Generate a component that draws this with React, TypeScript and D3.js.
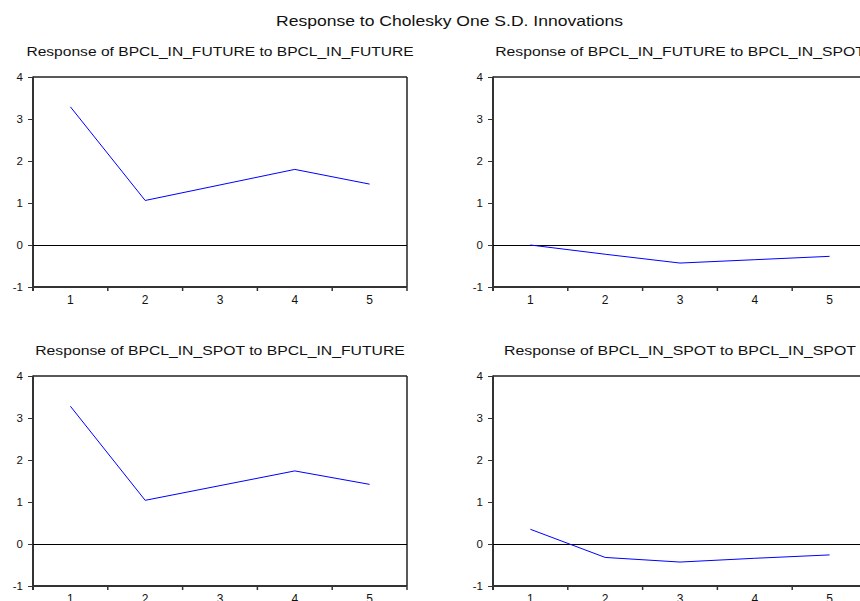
import * as d3 from "d3";

const periods = [1, 2, 3, 4, 5];
const yTicks = [-1, 0, 1, 2, 3, 4];

const futureToFuture = [3.29, 1.06, 1.43, 1.8, 1.45];
const futureToSpot = [0.0, -0.22, -0.43, -0.35, -0.27];
const spotToFuture = [3.28, 1.04, 1.39, 1.74, 1.42];
const spotToSpot = [0.35, -0.32, -0.43, -0.34, -0.26];

const panelTitles = [
  "Response of BPCL_IN_FUTURE to BPCL_IN_FUTURE",
  "Response of BPCL_IN_FUTURE to BPCL_IN_SPOT",
  "Response of BPCL_IN_SPOT to BPCL_IN_FUTURE",
  "Response of BPCL_IN_SPOT to BPCL_IN_SPOT",
];

const FONT = "'Liberation Sans', Arial, sans-serif";
const PLOT_W = 374;
const PLOT_H = 210;

const Panel = ({ left, top, title, values }) => {
  const x = d3
    .scaleBand<number>()
    .domain(periods)
    .range([left, left + PLOT_W]);
  const y = d3.scaleLinear().domain([-1, 4]).range([top + PLOT_H, top]);
  const bottom = top + PLOT_H;
  const right = left + PLOT_W;

  const line = d3
    .line<number>()
    .x((_, i) => x(periods[i])! + x.bandwidth() / 2)
    .y((d) => y(d));

  const edges = [...periods.map((p) => x(p)!), right];

  return (
    <g>
      <text
        x={left + PLOT_W / 2}
        y={top - 21}
        textAnchor="middle"
        fontSize="12.5px"
        textLength={title.length * 8.8}
        lengthAdjust="spacingAndGlyphs"
        fill="#111"
      >
        {title}
      </text>
      {/* frame */}
      <line x1={left} x2={right} y1={top} y2={top} stroke="#222" strokeWidth={1.5} />
      <line x1={right} x2={right} y1={top} y2={bottom} stroke="#222" strokeWidth={1.5} />
      <line x1={left} x2={left} y1={top - 0.5} y2={bottom + 4} stroke="#333" strokeWidth={2} />
      <line x1={left - 1} x2={right} y1={bottom} y2={bottom} stroke="#333" strokeWidth={2} />
      {/* zero line */}
      <line x1={left} x2={right} y1={y(0) + 0.5} y2={y(0) + 0.5} stroke="#000" strokeWidth={1} />
      {yTicks.map((t) => (
        <g key={t}>
          <line x1={left - 5} x2={left} y1={y(t) + 0.5} y2={y(t) + 0.5} stroke="#333" strokeWidth={1} />
          <text x={left - 10} y={y(t) + 4} textAnchor="end" fontSize="11.5px" fill="#111">
            {t}
          </text>
        </g>
      ))}
      {edges.map((e, i) => (
        <line key={i} x1={e} x2={e} y1={bottom} y2={bottom + 4} stroke="#333" strokeWidth={1.5} />
      ))}
      {periods.map((p) => (
        <text
          key={p}
          x={x(p)! + x.bandwidth() / 2}
          y={bottom + 17}
          textAnchor="middle"
          fontSize="12px"
          fill="#111"
        >
          {p}
        </text>
      ))}
      <path d={line(values) ?? ""} fill="none" stroke="#0000ff" strokeWidth={1} />
    </g>
  );
};

export default function App() {
  const series = [futureToFuture, futureToSpot, spotToFuture, spotToSpot];
  const lefts = [33, 493];
  const tops = [77, 376];
  const mainTitle = "Response to Cholesky One S.D. Innovations";
  return (
    <svg
      width={860}
      height={601}
      style={{ position: "absolute", left: 0, top: 0, background: "#fff", fontFamily: FONT }}
    >
      <rect width={860} height={601} fill="#fff" />
      <text
        x={449.5}
        y={26}
        textAnchor="middle"
        fontSize="15.5px"
        textLength={347}
        lengthAdjust="spacingAndGlyphs"
        fill="#111"
      >
        {mainTitle}
      </text>
      {series.map((vals, i) => (
        <Panel
          key={i}
          left={lefts[i % 2]}
          top={tops[Math.floor(i / 2)]}
          title={panelTitles[i]}
          values={vals}
        />
      ))}
    </svg>
  );
}
